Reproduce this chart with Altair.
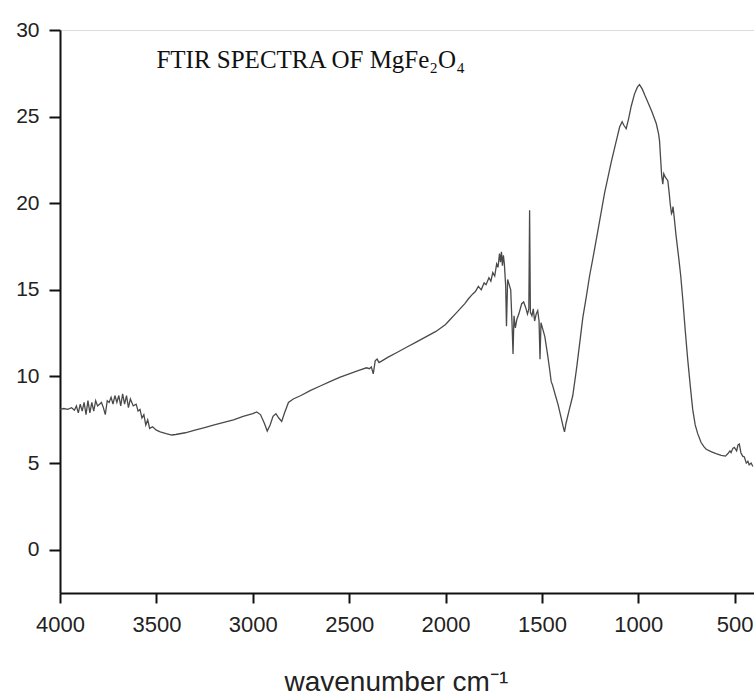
import altair as alt
import pandas as pd

wavenumber = [
    4000, 3980, 3960, 3940, 3925, 3915, 3905, 3895, 3885, 3875, 3865, 3855, 3845, 3835,
    3825, 3815, 3805, 3795, 3785, 3775, 3765, 3755, 3745, 3735, 3725, 3715, 3705, 3695,
    3685, 3675, 3665, 3655, 3645, 3635, 3620, 3605, 3595, 3585, 3575, 3565, 3555, 3545,
    3535, 3520, 3500, 3480, 3450, 3420, 3400, 3350, 3300, 3250, 3200, 3150, 3100, 3050,
    3000, 2980, 2960, 2940, 2925, 2910, 2895, 2880, 2865, 2850, 2835, 2815, 2790, 2750,
    2700, 2650, 2600, 2550, 2500, 2450, 2410, 2395, 2385, 2375, 2365, 2355, 2345, 2330,
    2300, 2250, 2200, 2150, 2100, 2050, 2000, 1975, 1950, 1925, 1900, 1880, 1860, 1845,
    1830, 1815, 1800, 1790, 1775, 1765, 1755, 1745, 1735, 1728, 1720, 1715, 1710, 1705,
    1700, 1695, 1688, 1684, 1678, 1670, 1662, 1655, 1650, 1645, 1638, 1630, 1620, 1605,
    1595, 1585, 1575, 1568, 1564, 1560, 1552, 1545, 1538, 1530, 1522, 1515, 1510, 1505,
    1495, 1485, 1470, 1460, 1452, 1445, 1430, 1417, 1400, 1390, 1383, 1375, 1360, 1340,
    1320, 1300, 1288, 1270, 1253, 1236, 1210, 1175, 1140, 1110, 1097, 1084, 1075, 1063,
    1050, 1037, 1020, 1005, 994, 980, 965, 951, 930, 907, 895, 890, 884, 879,
    873, 868, 860, 847, 840, 835, 828, 824, 820, 815, 804, 790, 780, 769,
    757, 744, 730, 718, 705, 692, 675, 660, 648, 620, 597, 570, 548, 535,
    525, 519, 510, 502, 490, 483, 476, 468, 459, 450, 440, 432, 425, 415, 406,
]

transmittance = [
    8.1, 8.15, 8.1, 8.2, 8.05, 8.3, 7.9, 8.4, 8.0, 8.5, 7.8, 8.6, 7.9, 8.5,
    8.0, 8.6, 8.3, 8.4, 8.5, 8.2, 7.8, 8.6, 8.5, 8.8, 8.4, 8.9, 8.5, 8.9,
    8.3, 9.0, 8.4, 8.9, 8.2, 8.7, 8.3, 8.4, 8.0, 8.1, 7.6, 7.8, 7.2, 7.5,
    7.0, 7.1, 6.9, 6.8, 6.7, 6.62, 6.65, 6.75, 6.9, 7.05, 7.2, 7.35, 7.5, 7.7,
    7.85, 7.95, 7.8, 7.3, 6.85, 7.2, 7.7, 7.85, 7.6, 7.4, 7.9, 8.5, 8.7, 8.9,
    9.2, 9.45, 9.7, 9.95, 10.15, 10.35, 10.5, 10.45, 10.55, 10.15, 10.9, 11.0, 10.8, 10.9,
    11.1, 11.4, 11.7, 12.0, 12.3, 12.6, 13.0, 13.3, 13.6, 13.9, 14.2, 14.5, 14.75, 14.9,
    15.2, 15.0, 15.4, 15.3, 15.7, 15.5, 16.0, 15.8, 16.5, 16.3, 17.1, 16.6, 17.2, 16.4,
    17.0, 16.5, 15.2, 12.9, 15.6, 15.3, 15.0, 13.0, 11.3, 13.5, 12.8, 13.3, 13.6, 14.2,
    14.3, 14.0, 13.6, 13.9, 19.6, 13.7, 13.5, 13.9, 13.2, 13.6, 13.8, 13.2, 11.0, 13.1,
    12.7, 12.3, 11.2, 10.4, 9.7, 9.5, 8.9, 8.4, 7.6, 7.1, 6.8, 7.3, 8.0, 8.9,
    10.5, 12.3, 13.4, 14.6, 15.8, 16.8, 18.4, 20.6, 22.4, 23.8, 24.4, 24.7, 24.5, 24.3,
    24.9, 25.6, 26.3, 26.7, 26.85, 26.6, 26.2, 25.85, 25.3, 24.6, 24.0, 23.6, 22.5, 21.6,
    21.1, 21.7, 21.5, 21.3, 20.6, 20.0, 19.4, 19.5, 19.8, 19.3, 18.1, 16.8, 15.8, 14.4,
    12.7, 11.0, 9.4, 8.1, 7.2, 6.7, 6.2, 5.95, 5.8, 5.65, 5.55, 5.45, 5.4, 5.55,
    5.7, 5.6, 5.85, 5.9, 5.7, 6.05, 6.1, 5.6, 5.4, 5.35, 5.0, 5.1, 4.9, 5.0, 4.8,
]

x_ticks = [4000, 3500, 3000, 2500, 2000, 1500, 1000, 500]
y_ticks = [0, 5, 10, 15, 20, 25, 30]
title_text = ["FTIR SPECTRA OF MgFe₂O₄"]
title_pos_x = [3500]
title_pos_y = [27.8]

df = pd.DataFrame({"wn": wavenumber, "t": transmittance, "order": range(len(wavenumber))})
lab = pd.DataFrame({"wn": title_pos_x, "t": title_pos_y, "label": title_text})

xscale = alt.Scale(domain=[400, 4000], reverse=True, nice=False, zero=False)
yscale = alt.Scale(domain=[-2.5, 30], nice=False, zero=False)

line = alt.Chart(df).mark_line(color="#4a4a4a", strokeWidth=1.3).encode(
    x=alt.X("wn:Q", scale=xscale,
            axis=alt.Axis(values=x_ticks, format="d", title="wavenumber cm⁻¹", grid=False,
                          labelFontSize=22, labelFont="Liberation Sans", labelColor="#222",
                          labelFlush=False, labelBaseline="alphabetic", labelPadding=28,
                          tickSize=10, tickWidth=2, tickColor="#111",
                          domainColor="#111", domainWidth=2,
                          titleFont="Liberation Sans", titleFontSize=28, titleFontWeight="normal",
                          titleColor="#222", titleAlign="left", titleBaseline="alphabetic",
                          titleAnchor="start", titleX=224, titleY=97)),
    y=alt.Y("t:Q", scale=yscale,
            axis=alt.Axis(values=y_ticks, format="d", title=None, grid=False,
                          labelFontSize=21, labelFont="Liberation Sans", labelColor="#222",
                          labelFlush=False, labelPadding=10,
                          tickSize=11, tickWidth=2, tickColor="#111",
                          domainColor="#111", domainWidth=2)),
    order="order:Q",
)

label = alt.Chart(lab).mark_text(
    align="left", baseline="alphabetic", font="Liberation Serif", fontSize=25, color="#111"
).encode(
    x=alt.X("wn:Q", scale=xscale),
    y=alt.Y("t:Q", scale=yscale),
    text="label:N",
)

chart = (line + label).properties(
    width=694, height=563,
    padding={"left": 60, "top": 30, "right": 0, "bottom": 102},
    autosize=alt.AutoSizeParams(type="none"),
).configure_view(stroke="#111", strokeWidth=2).configure(background="white")

chart.save("out.html", embed_options={"renderer": "svg", "actions": False})
